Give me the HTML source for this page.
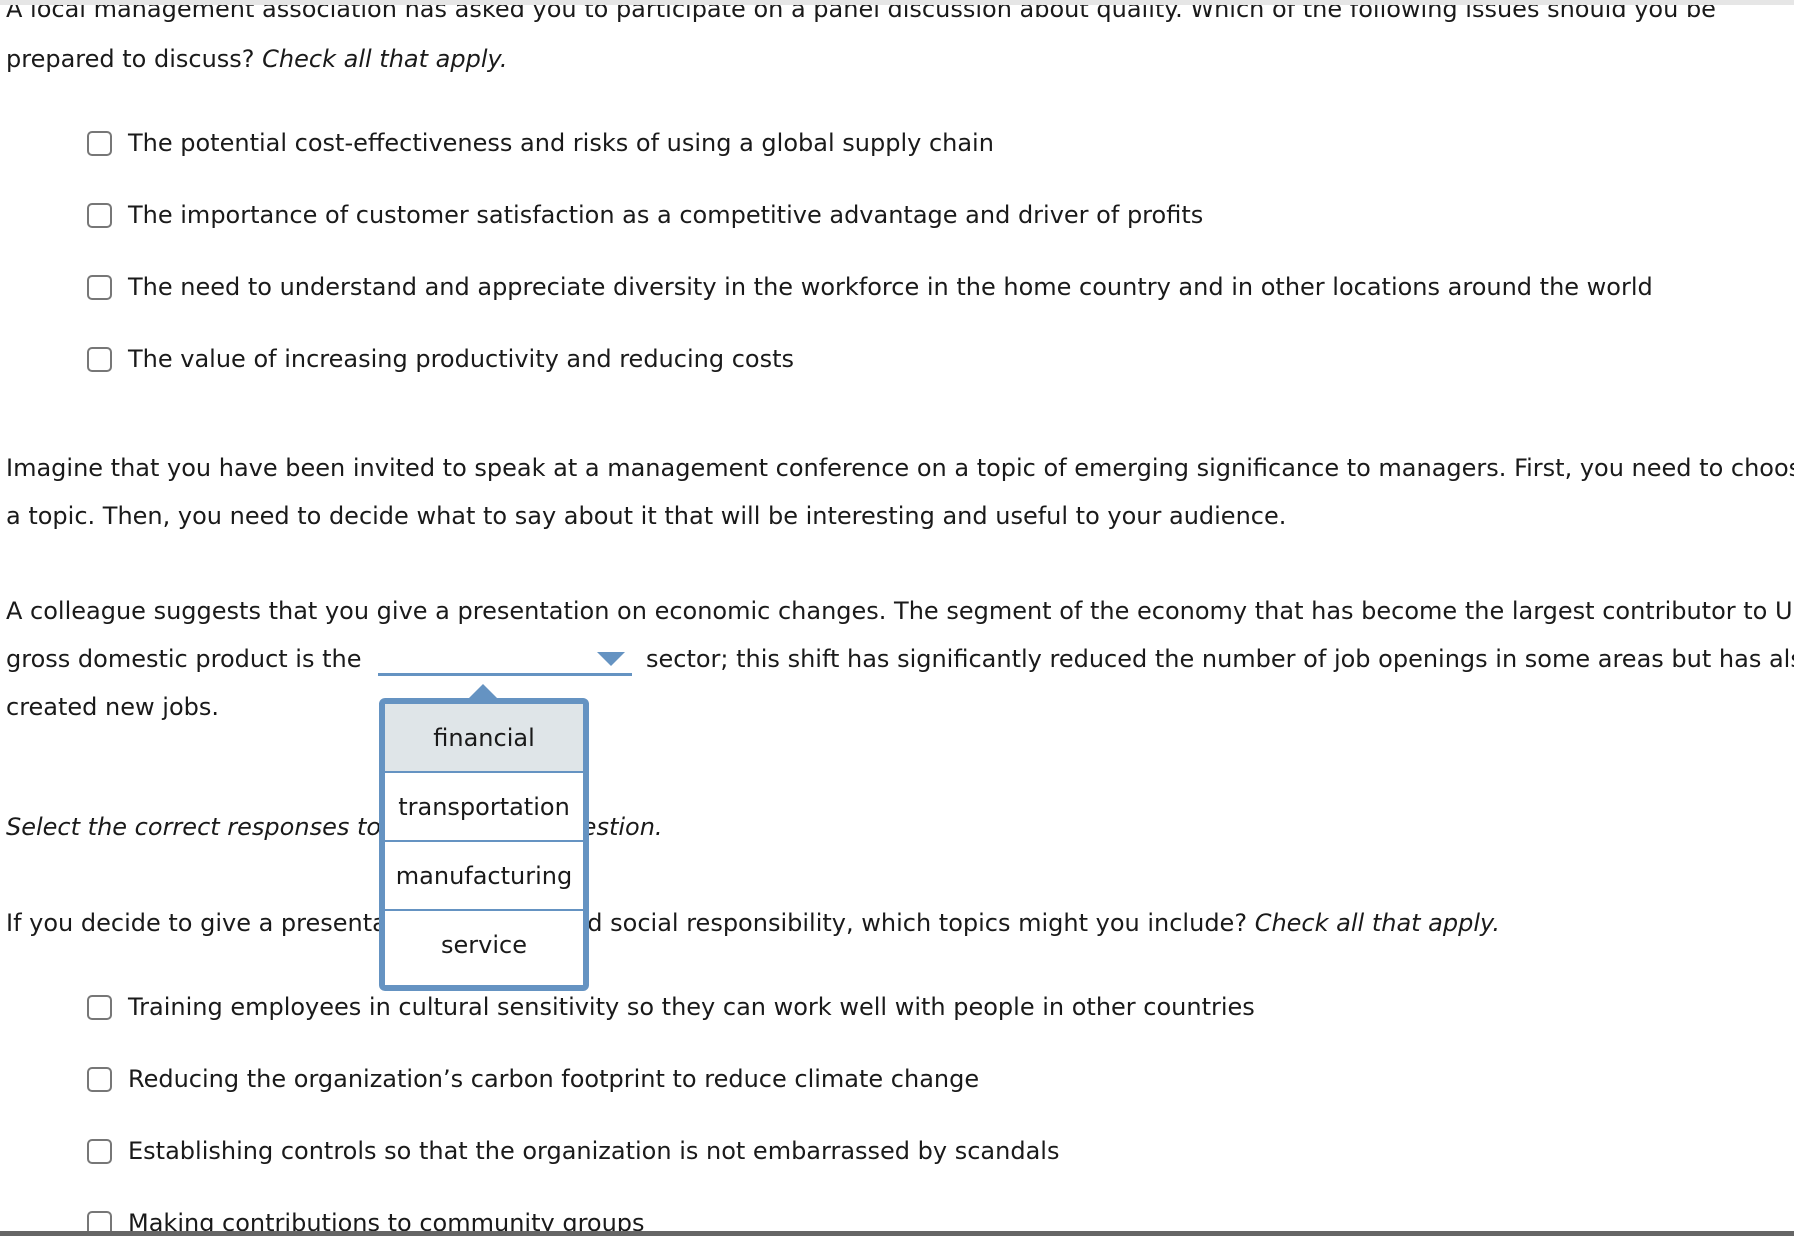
<!DOCTYPE html>
<html><head><meta charset="utf-8"><style>
body{margin:0;width:1794px;height:1236px;overflow:hidden;background:#fff;position:relative;font-family:"DejaVu Sans","Liberation Sans",sans-serif;font-size:24px;color:#1a1a1a}
.t{position:absolute;white-space:nowrap;line-height:30px}
.cb{position:absolute;left:87px;width:21px;height:21px;border:2px solid #777;border-radius:5px;background:#fff}
i{font-style:italic}
.pop{position:absolute;left:379px;top:698px;width:198px;height:281px;border:6px solid #6593c2;border-radius:6px;background:#fff}
.row{height:69px;line-height:69px;text-align:center;border-bottom:2px solid #6593c2;box-sizing:border-box}
</style></head><body>
<div class="t" style="left:6px;top:-6px">A local management association has asked you to participate on a panel discussion about quality. Which of the following issues should you be</div>
<div style="position:absolute;left:0;top:0;width:1794px;height:5px;background:#e6e6e6"></div>
<div class="t" style="left:6px;top:44px">prepared to discuss? <i>Check all that apply.</i></div>

<div class="cb" style="top:131px"></div><div class="t" style="left:128px;top:128px">The potential cost-effectiveness and risks of using a global supply chain</div>
<div class="cb" style="top:203px"></div><div class="t" style="left:128px;top:200px">The importance of customer satisfaction as a competitive advantage and driver of profits</div>
<div class="cb" style="top:275px"></div><div class="t" style="left:128px;top:272px">The need to understand and appreciate diversity in the workforce in the home country and in other locations around the world</div>
<div class="cb" style="top:347px"></div><div class="t" style="left:128px;top:344px">The value of increasing productivity and reducing costs</div>

<div class="t" style="left:6px;top:453px">Imagine that you have been invited to speak at a management conference on a topic of emerging significance to managers. First, you need to choose</div>
<div class="t" style="left:6px;top:501px">a topic. Then, you need to decide what to say about it that will be interesting and useful to your audience.</div>

<div class="t" style="left:6px;top:596px">A colleague suggests that you give a presentation on economic changes. The segment of the economy that has become the largest contributor to U.S.</div>
<div class="t" style="left:6px;top:644px">gross domestic product is the</div>
<div style="position:absolute;left:378px;top:673px;width:254px;height:3px;background:#6593c2"></div>
<div style="position:absolute;left:597px;top:652px;width:0;height:0;border-left:14px solid transparent;border-right:14px solid transparent;border-top:14px solid #6593c2"></div>
<div class="t" style="left:646px;top:644px">sector; this shift has significantly reduced the number of job openings in some areas but has also</div>
<div class="t" style="left:6px;top:692px">created new jobs.</div>

<div class="t" style="left:6px;top:812px"><i>Select the correct responses to the following question.</i></div>
<div class="t" style="left:6px;top:908px">If you decide to give a presentation on ethics and social responsibility, which topics might you include? <i>Check all that apply.</i></div>

<div style="position:absolute;left:469px;top:684px;width:0;height:0;border-left:14px solid transparent;border-right:14px solid transparent;border-bottom:14px solid #6593c2"></div>
<div class="pop">
<div class="row" style="background:#dfe5e8">financial</div>
<div class="row">transportation</div>
<div class="row">manufacturing</div>
<div class="row" style="border-bottom:none">service</div>
</div>

<div class="cb" style="top:995px"></div><div class="t" style="left:128px;top:992px">Training employees in cultural sensitivity so they can work well with people in other countries</div>
<div class="cb" style="top:1067px"></div><div class="t" style="left:128px;top:1064px">Reducing the organization’s carbon footprint to reduce climate change</div>
<div class="cb" style="top:1139px"></div><div class="t" style="left:128px;top:1136px">Establishing controls so that the organization is not embarrassed by scandals</div>
<div class="cb" style="top:1211px"></div><div class="t" style="left:128px;top:1208px">Making contributions to community groups</div>
<div style="position:absolute;left:0;top:1231px;width:1794px;height:5px;background:#666"></div>
</body></html>
